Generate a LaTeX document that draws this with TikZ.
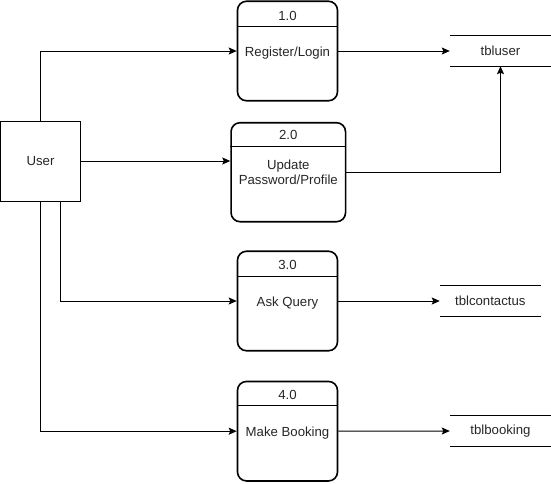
\documentclass[tikz,border=0pt]{standalone}
\usepackage{fontspec}
\setmainfont{Liberation Sans}
\usetikzlibrary{arrows.meta}
\begin{document}
\begin{tikzpicture}[x=1pt,y=-1pt,
  every node/.style={font=\fontsize{13.2}{15.5}\selectfont, text=black!85, align=center, inner sep=0pt},
  procbox/.style={draw, line width=1.6pt, rounded corners=9pt, minimum width=100pt, minimum height=99.5pt},
  oneline/.style={text height=11pt, text depth=0pt},
  procbox2/.style={procbox, minimum width=114.5pt, minimum height=99pt},
  store/.style={minimum height=30pt},
  ent/.style={draw, line width=1pt, minimum width=80pt, minimum height=80pt},
  arr/.style={line width=1pt, -{Stealth[length=8pt,width=7pt,inset=1.5pt]}}
]
\useasboundingbox (0,0) rectangle (551,483);
% entity
\node[ent] (u) at (40.5,161) {User};
% processes
\node[procbox, oneline] (p1) at (287.5,51) {Register/Login};
\node[procbox2] (p2) at (288.3,172.2) {Update\\Password/Profile};
\node[procbox, oneline] (p3) at (287.5,301) {Ask Query};
\node[procbox, oneline] (p4) at (287.5,431.2) {Make Booking};
% number labels and dividers
\node (n1) at (287.5,16) {1.0};
\node (n2) at (288.3,134.5) {2.0};
\node (n3) at (287.5,265) {3.0};
\node (n4) at (287.5,395) {4.0};
\draw[line width=1pt] (p1.west |- 0,26.3) -- (p1.east |- 0,26.3);
\draw[line width=1pt] (p2.west |- 0,146.7) -- (p2.east |- 0,146.7);
\draw[line width=1pt] (p3.west |- 0,276) -- (p3.east |- 0,276);
\draw[line width=1pt] (p4.west |- 0,405.7) -- (p4.east |- 0,405.7);
% data stores
\node[store, minimum width=101pt] (d1) at (500.5,51) {tbluser};
\node[store, minimum width=100.7pt] (d2) at (490.3,301) {tblcontactus};
\node[store, minimum width=101pt] (d3) at (500.5,431) {tblbooking};
\foreach \d in {d1,d2,d3}{
  \draw[line width=1pt] (\d.north west) -- (\d.north east);
  \draw[line width=1pt] (\d.south west) -- (\d.south east);
}
% flows
\draw[arr] (u.north) |- (p1.west);
\draw[arr] (u.east) -- (p2.west |- u.east);
\draw[arr] ([xshift=20pt]u.south) |- (p3.west);
\draw[arr] (u.south) |- (p4.west);
\draw[arr] (p1.east) -- (d1.west);
\draw[arr] (p2.east) -| (d1.south);
\draw[arr] (p3.east) -- (d2.west);
\draw[arr] (p4.east) -- (d3.west);
\end{tikzpicture}
\end{document}
